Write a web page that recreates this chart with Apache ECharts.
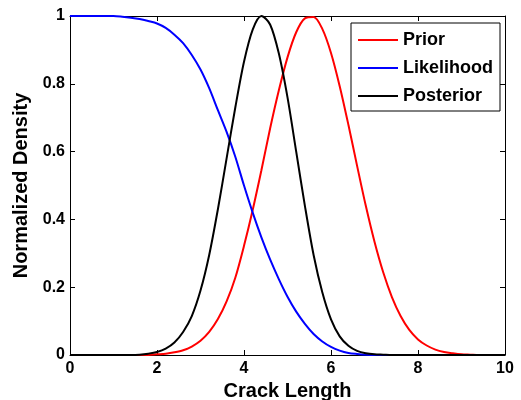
<!DOCTYPE html>
<html>
<head>
<meta charset="utf-8">
<script src="https://cdn.jsdelivr.net/npm/echarts@6/dist/echarts.min.js"></script>
<style>
  html, body { margin: 0; padding: 0; background: #fff; }
  #chart { width: 521px; height: 400px; }
</style>
</head>
<body>
<div id="chart"></div>
<script>
// Crack length grid (shared by all three curves)
const crackLength = [
  0, 0.2, 0.4, 0.6, 0.8, 1.0, 1.2, 1.4, 1.6, 1.8,
  2.0, 2.2, 2.4, 2.6, 2.8, 3.0, 3.2, 3.4, 3.6, 3.8,
  4.0, 4.2, 4.4, 4.6, 4.8, 5.0, 5.2, 5.4, 5.6, 5.8,
  6.0, 6.2, 6.4, 6.6, 6.8, 7.0, 7.2, 7.4, 7.6, 7.8,
  8.0, 8.2, 8.4, 8.6, 8.8, 9.0, 9.2, 9.4, 9.6, 9.8, 10.0
];

// Normalized densities
const prior = [
  0, 0, 0, 0, 0, 0, 0, 0, 0, 0,
  0.002, 0.004, 0.008, 0.014, 0.025, 0.042, 0.068, 0.106, 0.158, 0.228,
  0.322, 0.428, 0.545, 0.668, 0.78, 0.878, 0.952, 0.993, 0.997, 0.962,
  0.891, 0.793, 0.679, 0.558, 0.44, 0.334, 0.244, 0.171, 0.115, 0.074,
  0.046, 0.028, 0.016, 0.009, 0.005, 0.002, 0.001, 0, 0, 0, 0
];

const likelihood = [
  1, 1, 1, 1, 1, 1, 0.998, 0.995, 0.991, 0.985,
  0.978, 0.965, 0.945, 0.92, 0.885, 0.842, 0.787, 0.722, 0.658, 0.585,
  0.5, 0.42, 0.347, 0.282, 0.224, 0.172, 0.128, 0.092, 0.062, 0.04,
  0.024, 0.013, 0.006, 0.003, 0.001, 0, 0, 0, 0, 0,
  0, 0, 0, 0, 0, 0, 0, 0, 0, 0, 0
];

const posterior = [
  0, 0, 0, 0, 0, 0, 0, 0, 0.001, 0.004,
  0.009, 0.019, 0.037, 0.068, 0.115, 0.19, 0.295, 0.43, 0.58, 0.73,
  0.865, 0.96, 1.0, 0.975, 0.89, 0.76, 0.6, 0.44, 0.295, 0.185,
  0.105, 0.055, 0.027, 0.012, 0.005, 0.002, 0.001, 0, 0, 0,
  0, 0, 0, 0, 0, 0, 0, 0, 0, 0, 0
];

const xTicks = { min: 0, max: 10, interval: 2 };
const yTicks = { min: 0, max: 1, interval: 0.2 };

const FONT = 'Arial, "Liberation Sans", Helvetica, sans-serif';

function pairs(ys) {
  return crackLength.map((x, i) => [x, ys[i]]);
}

const chart = echarts.init(document.getElementById('chart'), null, { renderer: 'canvas' });

const baseAxisLine = { show: true, onZero: false, lineStyle: { color: '#000', width: 1 } };
const baseTick = { show: true, inside: true, length: 5, lineStyle: { color: '#000', width: 1 } };

function lineSeries(name, color, ys) {
  return {
    name: name,
    type: 'line',
    data: pairs(ys),
    showSymbol: false,
    symbol: 'none',
    smooth: 0.3,
    clip: false,
    lineStyle: { color: color, width: 2 },
    itemStyle: { color: color },
    emphasis: { disabled: true }
  };
}

chart.setOption({
  animation: false,
  backgroundColor: '#fff',
  grid: { left: 70, right: 16, top: 16, bottom: 45, containLabel: false, outerBoundsMode: 'none' },
  legend: {
    orient: 'vertical',
    left: 351,
    top: 23,
    padding: [8, 7, 6, 7],
    icon: 'rect',
    itemWidth: 40,
    itemHeight: 2,
    itemGap: 10,
    backgroundColor: '#fff',
    borderColor: '#000',
    borderWidth: 1,
    textStyle: { fontFamily: FONT, fontWeight: 'bold', fontSize: 18, lineHeight: 14, color: '#000' },
    data: ['Prior', 'Likelihood', 'Posterior']
  },
  xAxis: [
    {
      type: 'value',
      min: xTicks.min, max: xTicks.max, interval: xTicks.interval,
      position: 'bottom',
      name: 'Crack Length',
      nameLocation: 'middle',
      nameGap: 25,
      nameTextStyle: { fontFamily: FONT, fontWeight: 'bold', fontSize: 20, color: '#000', verticalAlign: 'top' },
      axisLine: baseAxisLine,
      axisTick: baseTick,
      splitLine: { show: false },
      axisLabel: { fontFamily: FONT, fontWeight: 'bold', fontSize: 16, color: '#000', margin: 6 }
    },
    {
      type: 'value',
      min: xTicks.min, max: xTicks.max, interval: xTicks.interval,
      position: 'top',
      axisLine: baseAxisLine,
      axisTick: baseTick,
      splitLine: { show: false },
      axisLabel: { show: false }
    }
  ],
  yAxis: [
    {
      type: 'value',
      min: yTicks.min, max: yTicks.max, interval: yTicks.interval,
      position: 'left',
      name: 'Normalized Density',
      nameLocation: 'middle',
      nameGap: 38,
      nameTextStyle: { fontFamily: FONT, fontWeight: 'bold', fontSize: 20, color: '#000' },
      axisLine: baseAxisLine,
      axisTick: baseTick,
      splitLine: { show: false },
      axisLabel: { fontFamily: FONT, fontWeight: 'bold', fontSize: 16, color: '#000', margin: 5 }
    },
    {
      type: 'value',
      min: yTicks.min, max: yTicks.max, interval: yTicks.interval,
      position: 'right',
      axisLine: baseAxisLine,
      axisTick: baseTick,
      splitLine: { show: false },
      axisLabel: { show: false }
    }
  ],
  series: [
    lineSeries('Prior', '#ff0000', prior),
    lineSeries('Likelihood', '#0000ff', likelihood),
    lineSeries('Posterior', '#000000', posterior)
  ]
});
</script>
</body>
</html>
